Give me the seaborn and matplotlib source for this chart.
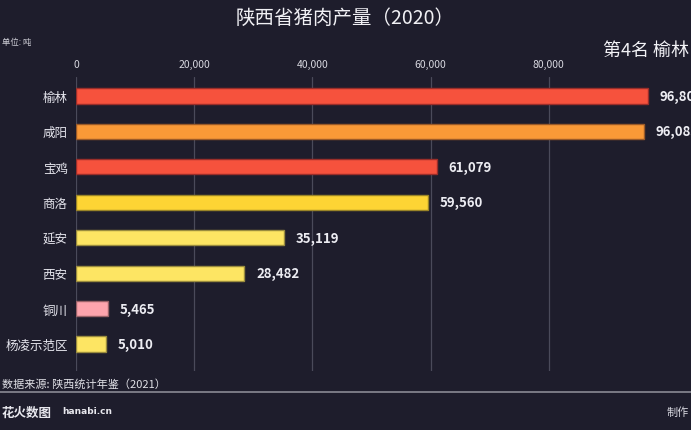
import matplotlib
matplotlib.use("Agg")
import matplotlib.pyplot as plt
import seaborn as sns
import pandas as pd
from matplotlib.ticker import FuncFormatter

cities = ["榆林", "咸阳", "宝鸡", "商洛", "延安", "西安", "铜川", "杨凌示范区"]
values = [96805, 96085, 61079, 59560, 35119, 28482, 5465, 5010]
colors = ["#f6523d", "#f99937", "#f6523d", "#fdd434", "#fde563", "#fde563", "#fda4ad", "#fde563"]
edge_colors = ["#9a2e2a", "#9a5a28", "#9a2e2a", "#9a8427", "#9a8c3e", "#9a8c3e", "#9a6268", "#9a8c3e"]
xticks = [0, 20000, 40000, 60000, 80000]

title = "陕西省猪肉产量（2020）"
unit = "单位: 吨"
rank_label = "第4名 榆林"
source = "数据来源: 陕西统计年鉴（2021）"

BG = "#1e1d2c"
FONT = ["Noto Sans CJK SC", "DejaVu Sans"]

sns.set_style("dark")
plt.rcParams["font.family"] = FONT

df = pd.DataFrame({"city": cities, "value": values})

W, H = 691, 431
fig = plt.figure(figsize=(W / 100, H / 100), dpi=100, facecolor=BG)

px_per_unit = 118.2 / 20000.0
xmax = 110000
left_px, top_px, bottom_px = 76, 78, 372
ax = fig.add_axes([left_px / W, 1 - bottom_px / H,
                   xmax * px_per_unit / W, (bottom_px - top_px) / H])
ax.set_facecolor(BG)

sns.barplot(data=df, x="value", y="city", hue="city", palette=colors,
            legend=False, ax=ax, width=0.43, saturation=1, zorder=3)
for patch, ec in zip(ax.patches, edge_colors):
    patch.set_edgecolor(ec)
    patch.set_linewidth(1.0)

ax.set_xlim(0, xmax)
span = (bottom_px - top_px) / (248 / 7.0)
ytop = -19 / (248 / 7.0)
ax.set_ylim(ytop + span, ytop)
ax.set_xticks(xticks)
ax.xaxis.set_major_formatter(FuncFormatter(lambda v, p: f"{int(v):,}"))
ax.xaxis.tick_top()
ax.tick_params(axis="x", colors="#d8d8e0", labelsize=7.5, length=0, pad=6)
ax.tick_params(axis="y", colors="#e6e6ee", labelsize=9, length=0, pad=6)
ax.grid(axis="x", color="#4a4a5a", linewidth=0.9, zorder=0)
ax.grid(axis="y", visible=False)
ax.set_xlabel("")
ax.set_ylabel("")
for s in ax.spines.values():
    s.set_visible(False)

for i, v in enumerate(values):
    ax.text(v + 2000, i, f"{v:,}", va="center", ha="left", color="#ececf2",
            fontsize=9.5, fontweight="bold", family=FONT, clip_on=False)

fig.text(0.5, 1 - 18 / H, title, ha="center", va="center", color="#f0f0f4", fontsize=14)
fig.text(2 / W, 1 - 43 / H, unit, ha="left", va="center", color="#d0d0d8", fontsize=6)
fig.text(1 - 2 / W, 1 - 51 / H, rank_label, ha="right", va="center", color="#f2f2f6", fontsize=13)
fig.text(2 / W, 1 - 384 / H, source, ha="left", va="center", color="#e0e0e6", fontsize=8)
fig.add_artist(plt.Line2D([0, 1], [1 - 393 / H, 1 - 393 / H], color="#8a8a94", linewidth=1.2,
                          transform=fig.transFigure))
fig.text(2 / W, 1 - 413 / H, "花火数图", ha="left", va="center", color="#e8e8ee",
         fontsize=9, fontweight="bold")
fig.text(62 / W, 1 - 412 / H, "hanabi.cn", ha="left", va="center", color="#e8e8ee",
         fontsize=6.5, fontweight="bold", family=["DejaVu Sans"])
fig.text(1 - 2 / W, 1 - 413 / H, "制作", ha="right", va="center", color="#d8d8e0", fontsize=8)

fig.savefig("out.png", dpi=100, facecolor=BG)
